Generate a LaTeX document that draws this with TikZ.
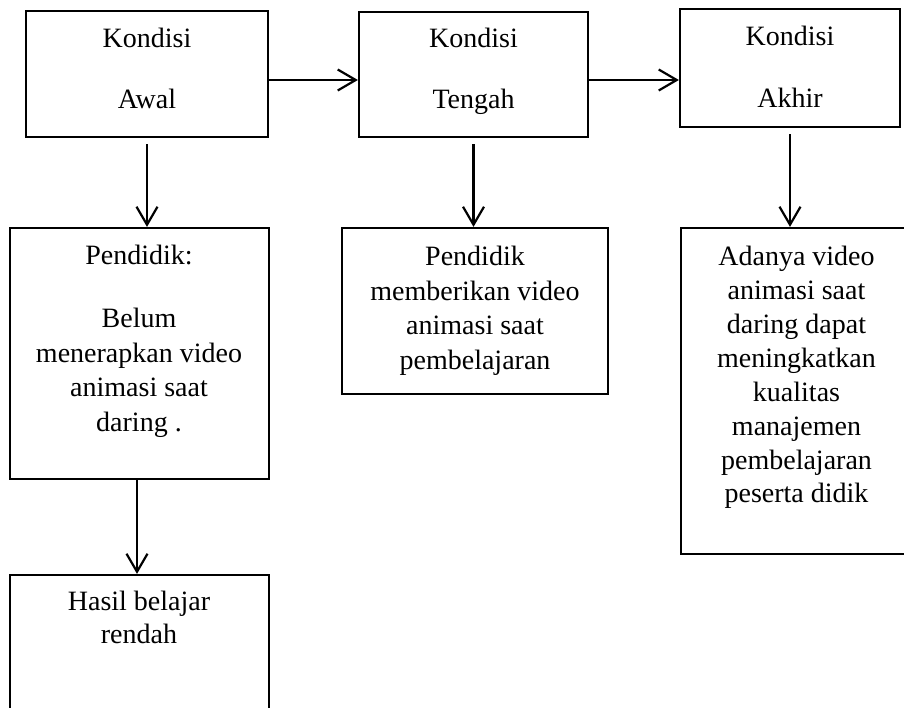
\documentclass[tikz,border=0pt]{standalone}
\usepackage{fontspec}
\setmainfont{Liberation Serif}
\usetikzlibrary{arrows.meta}
\tikzset{
  box/.style={draw, line width=2.2pt, inner sep=0pt, anchor=center},
  txt/.style={anchor=north, align=center, inner sep=0pt, font=\fontsize{28}{34.5}\selectfont},
  conn/.style={line width=2.2pt, -{Straight Barb[length=18pt,width=21pt,line width=2.2pt]}}
}
\begin{document}
\begin{tikzpicture}[x=1pt,y=-1pt]
\useasboundingbox (0,0) rectangle (904,707);
\clip (0,0) rectangle (904,707);
% boxes
\node[box, minimum width=242pt, minimum height=126pt] (b1) at (147,74) {};
\node[box, minimum width=229pt, minimum height=125pt] (b2) at (473.5,74.5) {};
\node[box, minimum width=220pt, minimum height=118pt] (b3) at (790,68) {};
\node[box, minimum width=259pt, minimum height=251pt] (b4) at (139.5,353.5) {};
\node[box, minimum width=266pt, minimum height=166pt] (b5) at (475,311) {};
\node[box, minimum width=240pt, minimum height=326pt] (b6) at (801,391) {};
\node[box, minimum width=259pt, minimum height=160pt] (b7) at (139.5,655) {};
% texts
\node[txt] (t1) at (147,28) {Kondisi\\[26.5pt]Awal};
\node[txt] (t2) at (473.5,28) {Kondisi\\[26.5pt]Tengah};
\node[txt] (t3) at (790,26) {Kondisi\\[27.5pt]Akhir};
\node[txt] (t4) at (139,245) {Pendidik:\\[28.5pt]Belum\\menerapkan video\\animasi saat\\daring .};
\node[txt] (t5) at (475,246) {Pendidik\\memberikan video\\animasi saat\\pembelajaran};
\node[txt, font=\fontsize{28}{33.9}\selectfont] (t6) at (796.5,246) {Adanya video\\animasi saat\\daring dapat\\meningkatkan\\kualitas\\manajemen\\pembelajaran\\peserta didik};
\node[txt, font=\fontsize{28}{33}\selectfont] (t7) at (139,591) {Hasil belajar\\rendah};
% connectors
\draw[conn] ([yshift=-6pt]b1.east) -- ([yshift=-6pt]b1.east -| b2.west);
\draw[conn] ([yshift=-5.5pt]b2.east) -- ([yshift=-5.5pt]b2.east -| b3.west);
\draw[conn, shorten <=6pt] (b1.south) -- (b1.south |- b4.north);
\draw[conn, shorten <=6pt] (b2.south) -- (b2.south |- b5.north);
\draw[conn, shorten <=6pt] (b3.south) -- (b3.south |- b6.north);
\draw[conn] ([xshift=-2.5pt]b4.south) -- ([xshift=-2.5pt]b4.south |- b7.north);
\end{tikzpicture}
\end{document}
